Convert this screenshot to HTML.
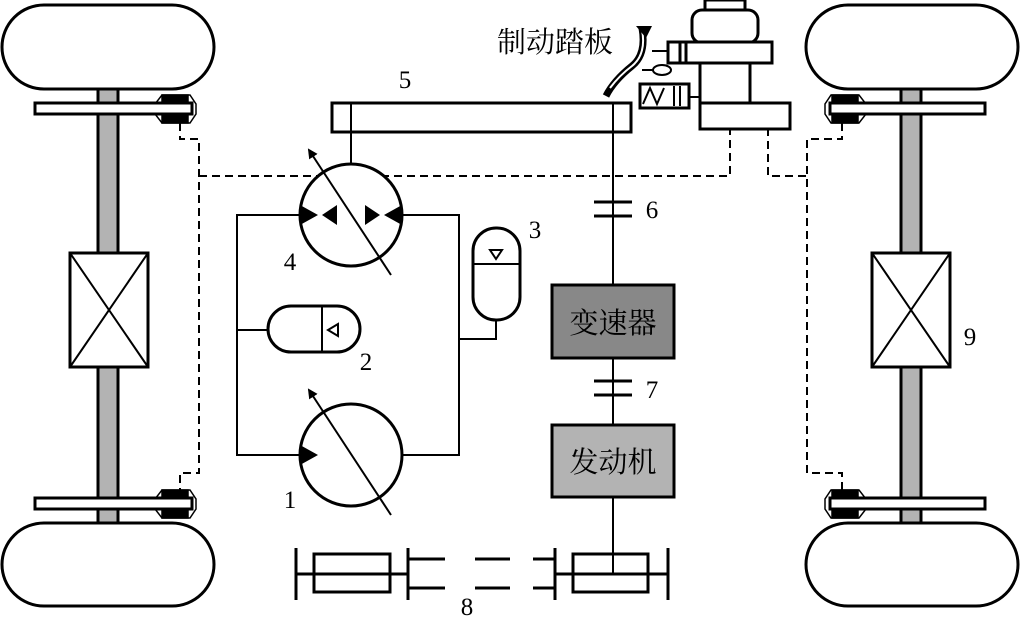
<!DOCTYPE html>
<html><head><meta charset="utf-8"><style>body{margin:0;background:#fff}svg{display:block}text{font-family:"Liberation Serif","Noto Serif CJK SC",serif}</style></head><body>
<svg width="1020" height="620" viewBox="0 0 1020 620" xmlns="http://www.w3.org/2000/svg">
<defs><marker id="ar" markerWidth="10" markerHeight="10" refX="8" refY="5" orient="auto" markerUnits="userSpaceOnUse"><path d="M0,0 L10,5 L0,10 Z" fill="#000"/></marker></defs>
<g stroke="#000" stroke-width="3" fill="#fff">
<rect x="98" y="88" width="20" height="436" fill="#b3b3b3"/>
<rect x="901" y="88" width="20" height="436" fill="#b3b3b3"/>
<rect x="2" y="5" width="212" height="84" rx="42"/>
<rect x="2" y="523" width="212" height="83" rx="42"/>
<rect x="806" y="5" width="212" height="84" rx="42"/>
<rect x="806" y="523" width="212" height="83" rx="42"/>
<rect x="70" y="253" width="78" height="114"/>
<path d="M70,253 L148,367 M148,253 L70,367" stroke-width="2"/>
<rect x="872" y="253" width="78" height="114"/>
<path d="M872,253 L950,367 M950,253 L872,367" stroke-width="2"/>
</g>
<!-- calipers -->
<g fill="#000" stroke="#000" stroke-width="1.5">
<path d="M162,95 L190,95 L196,104 L196,114 L190,123 L162,123 L155,114 L155,104 Z" fill="#fff"/>
<rect x="162" y="95" width="26" height="28"/>
<path d="M162,490 L190,490 L196,499 L196,509 L190,518 L162,518 L155,509 L155,499 Z" fill="#fff"/>
<rect x="162" y="490" width="26" height="28"/>
<path d="M831,95 L859,95 L866,104 L866,114 L859,123 L831,123 L825,114 L825,104 Z" fill="#fff"/>
<rect x="832" y="95" width="26" height="28"/>
<path d="M831,490 L859,490 L866,499 L866,509 L859,518 L831,518 L825,509 L825,499 Z" fill="#fff"/>
<rect x="832" y="490" width="26" height="28"/>
</g>
<g stroke="#000" stroke-width="3" fill="#fff">
<rect x="35" y="103" width="157" height="11"/>
<rect x="35" y="498" width="157" height="11"/>
<rect x="830" y="103" width="155" height="11"/>
<rect x="830" y="498" width="155" height="11"/>
</g>
<g stroke="#000" stroke-width="2" fill="none" stroke-dasharray="8,5">
<path d="M180,123 V139 H199 V473 H180 V490"/>
<path d="M199,176 H730 V128"/>
<path d="M768,128 V176 H807"/>
<path d="M842,123 V139 H807 V473 H842 V490"/>
</g>
<g stroke="#000" stroke-width="3" fill="#fff">
<rect x="332" y="103" width="299" height="29"/>
</g>
<g stroke="#000" stroke-width="2" fill="none">
<path d="M351,103 V164 M613,103 V284 M613,358 V424 M613,497 V574"/>
<path d="M594,202 H632 M594,216 H632 M594,381 H632 M594,395 H632" stroke-width="3"/>
<path d="M300,215 H237 V455 H300 M402,215 H459 V455 H402 M237,330 H268 M459,339 H496 V320"/>
</g>
<rect x="552" y="285" width="122" height="73" fill="#888" stroke="#000" stroke-width="3"/>
<rect x="552" y="425" width="122" height="72" fill="#b3b3b3" stroke="#000" stroke-width="3"/>
<text x="613" y="333" font-size="29" text-anchor="middle" font-family="Liberation Sans,'Noto Sans CJK SC',sans-serif">变速器</text>
<text x="613" y="472" font-size="29" text-anchor="middle" font-family="Liberation Sans,'Noto Sans CJK SC',sans-serif">发动机</text>
<g stroke="#000" stroke-width="3" fill="#fff">
<circle cx="351" cy="215" r="51"/>
<circle cx="351" cy="455" r="51"/>
<rect x="268" y="306" width="92" height="46" rx="23"/>
<rect x="473" y="228" width="47" height="92" rx="23"/>
</g>
<g stroke="#000" stroke-width="2" fill="none">
<path d="M322,306 V352 M473,264 H520"/>
<path d="M391,275 L309,150" marker-end="url(#ar)"/>
<path d="M391,515 L309,390" marker-end="url(#ar)"/>
<path d="M338,324 L328,330 L338,336 Z"/>
<path d="M490,250 L502,250 L496,259 Z"/>
</g>
<g fill="#000">
<path d="M300,205 L318,215 L300,225 Z"/><path d="M337,205 L322,215 L337,225 Z"/>
<path d="M365,205 L380,215 L365,225 Z"/><path d="M402,205 L384,215 L402,225 Z"/>
<path d="M300,445 L318,455 L300,465 Z"/>
</g>
<g stroke="#000" stroke-width="3" fill="none">
<path d="M296,548 V600 M408,548 V600 M555,548 V600 M668,548 V600"/>
<path d="M296,574 H408 M555,574 H668"/>
<rect x="314" y="554" width="76" height="38"/>
<rect x="573" y="554" width="75" height="38"/>
<path d="M408,559 H445 M408,588 H445 M475,559 H510 M475,588 H510 M533,559 H555 M533,588 H555"/>
</g>
<g stroke="#000" stroke-width="3" fill="#fff">
<rect x="705" y="0" width="40" height="10"/>
<rect x="692" y="10" width="66" height="33" rx="10"/>
<path d="M700,62 V103 M750,62 V103"/>
<rect x="668" y="42" width="104" height="21"/>
<path d="M680,42 V63 M686,42 V63"/>
<rect x="700" y="103" width="90" height="26"/>
<rect x="640" y="84" width="49" height="24"/>
<path d="M643,104 L650,88 L657,104 L664,88 M674,86 V106 M680,86 V106" stroke-width="2" fill="none"/>
<path d="M689,97 H700 M652,51 H668 M642,70 H655" stroke-width="2" fill="none"/>
<ellipse cx="662" cy="70" rx="9" ry="5" stroke-width="2"/>
</g>
<path d="M642,28 C645,45 642,58 632,66 C622,74 612,84 606,96" stroke="#000" stroke-width="7" fill="none"/>
<path d="M642,30 C645,45 642,58 632,66 C624,72 616,80 610,88" stroke="#fff" stroke-width="2" fill="none"/>
<path d="M636,26 L652,26 L646,38 Z" fill="#000"/>
<text x="497" y="52" font-size="29" font-family="Liberation Sans,'Noto Sans CJK SC',sans-serif">制动踏板</text>
<g font-size="25" text-anchor="middle">
<text x="405" y="88">5</text><text x="652" y="218">6</text><text x="652" y="398">7</text>
<text x="290" y="270">4</text><text x="535" y="238">3</text><text x="366" y="370">2</text>
<text x="290" y="508">1</text><text x="467" y="615">8</text><text x="970" y="345">9</text>
</g>
</svg>
</body></html>
